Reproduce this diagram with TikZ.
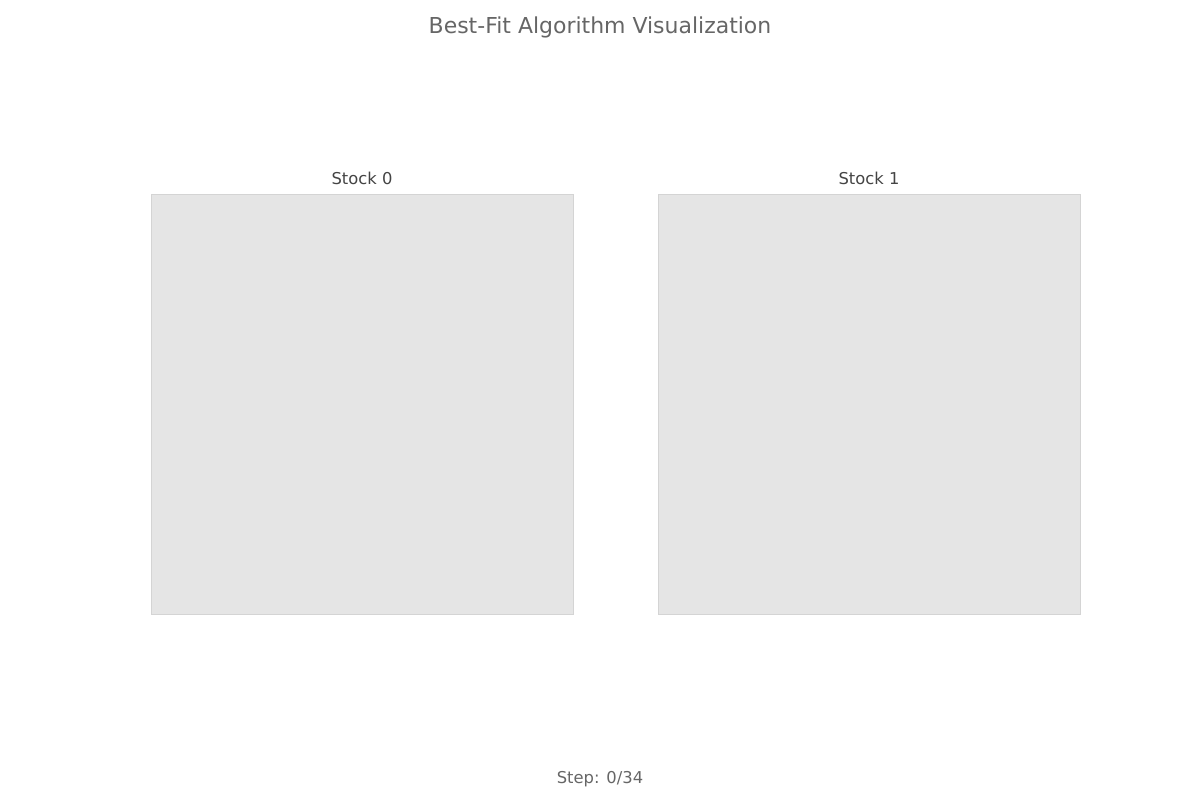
\documentclass[tikz,border=0pt]{standalone}
\usepackage{fontspec}
\setmainfont{DejaVu Sans}
\usetikzlibrary{positioning}
\definecolor{panelgray}{HTML}{E5E5E5}
\definecolor{edgegray}{HTML}{D4D4D4}
\definecolor{labelgray}{HTML}{444444}
\definecolor{titlegray}{HTML}{666666}

\begin{document}
\begin{tikzpicture}[
  x=0.02cm, y=-0.02cm,
  stockbox/.style={rectangle, draw=edgegray, line width=0.5pt, fill=panelgray,
                   minimum width=8.44cm, minimum height=8.4cm, inner sep=0pt},
  stocklabel/.style={font=\fontsize{9.3}{11}\selectfont, text=labelgray, inner sep=1pt},
  titletext/.style={font=\fontsize{12.5}{15}\selectfont, text=titlegray}
]
  \useasboundingbox (0,0) rectangle (1200,800);

  \node[titletext] (title) at (600,27) {Best-Fit Algorithm Visualization};

  \node[stockbox] (stock0) at (362,404) {};
  \node[stockbox] (stock1) at (869,404) {};

  \node[stocklabel, above=4pt of stock0] (lab0) {Stock 0};
  \node[stocklabel, above=4pt of stock1] (lab1) {Stock 1};

  \node[stocklabel, text=titlegray] (step) at (600,779) {Step: 0/34};
\end{tikzpicture}
\end{document}
